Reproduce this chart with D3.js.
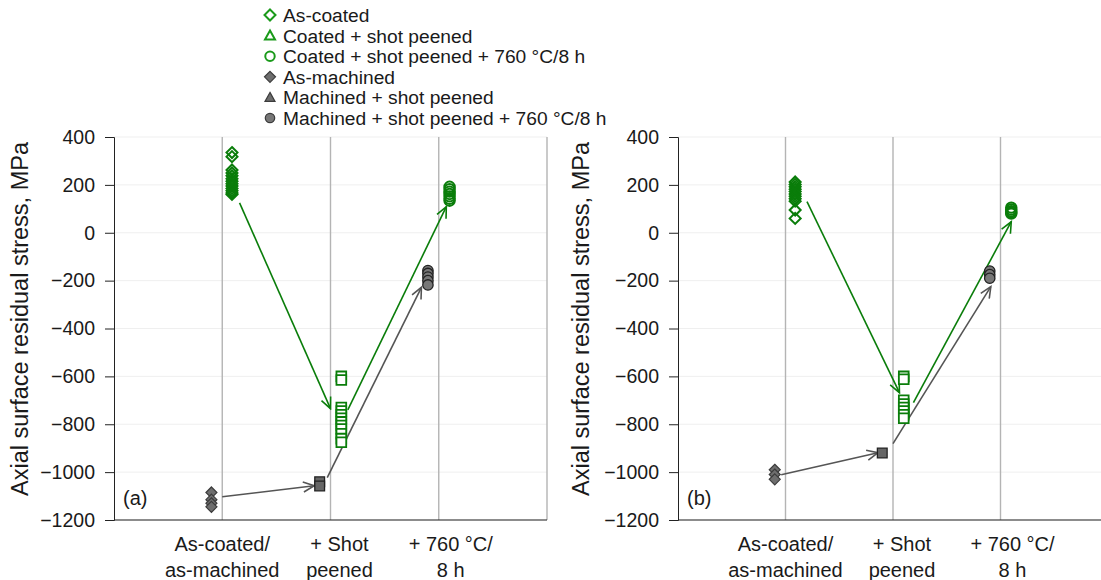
<!DOCTYPE html>
<html>
<head>
<meta charset="utf-8">
<script src="https://cdn.jsdelivr.net/npm/d3@7"></script>
<style>
  body { margin: 0; background: #fff; }
  text { font-family: "Liberation Sans", Arial, sans-serif; fill: #1a1a1a; }
</style>
</head>
<body>
<div id="chart"></div>
<script>
// categorieen en labels
const categories = [["As-coated/", "as-machined"], ["+ Shot", "peened"], ["+ 760 °C/", "8 h"]];
const yTicks = [400, 200, 0, -200, -400, -600, -800, -1000, -1200];
const legendLabels = ["As-coated", "Coated + shot peened", "Coated + shot peened + 760 °C/8 h",
    "As-machined", "Machined + shot peened", "Machined + shot peened + 760 °C/8 h"];

// paneel (a) waarden, MPa
const aCoated = [335, 318, 262, 250, 238, 226, 215, 205, 195, 185, 175, 166, 160];
const aCoatedPeened = [-600, -615, -730, -745, -760, -775, -790, -805, -820, -840, -860, -875];
const aCoatedAged = [192, 182, 172, 162, 152, 142, 134];
const aMachined = [-1085, -1115, -1130, -1145];
const aMachinedPeened = [-1040, -1058];
const aMachinedAged = [-158, -170, -185, -200, -218];
// pijlen: [x0, y0, x1, y1] in categorie-eenheden en MPa
const aArrowsGreen = [[0.16, 125, 1.0, -735], [1.16, -740, 2.07, 109]];
const aArrowsGray = [[0.0, -1103, 0.85, -1057], [0.97, -1023, 1.84, -228]];

// paneel (b) waarden, MPa
const bCoated = [212, 202, 192, 182, 172, 162, 152, 142, 132, 95, 60];
const bCoatedPeened = [-600, -612, -700, -715, -730, -745, -760, -775];
const bCoatedAged = [105, 97, 90, 84, 80];
const bMachined = [-990, -1010, -1030];
const bMachinedPeened = [-920];
const bMachinedAged = [-160, -175, -190];
const bArrowsGreen = [[0.2, 130, 1.06, -668], [1.19, -710, 2.1, 46]];
const bArrowsGray = [[-0.04, -1011, 0.86, -919], [1.0, -881, 1.91, -225]];

const green = "#0a7d0a";
const legendGreen = "#1a9a1a";
const gray = "#555";

const svg = d3.select("#chart")
    .append("svg")
    .attr("width", 1101)
    .attr("height", 580);

const y = d3.scaleLinear().domain([-1200, 400]).range([520, 137]);

// pijlpunten (open V)
const defs = svg.append("defs");
[["arrGreen", green], ["arrGray", gray]].forEach(([id, c]) => {
    defs.append("marker")
        .attr("id", id)
        .attr("viewBox", "-12 -6 14 12")
        .attr("refX", 0).attr("refY", 0)
        .attr("markerWidth", 14).attr("markerHeight", 12)
        .attr("markerUnits", "userSpaceOnUse")
        .attr("orient", "auto")
        .append("path")
        .attr("d", "M-11,-5 L0,0 L-11,5")
        .attr("fill", "none")
        .attr("stroke", c)
        .attr("stroke-width", 1.6);
});

const diamond = "M0,-5.5 L5.5,0 L0,5.5 L-5.5,0Z";
const square = d3.symbol().type(d3.symbolSquare).size(95)();
const circle = d3.symbol().type(d3.symbolCircle).size(85)();
const triangle = "M0,-5 L5,4 L-5,4Z";

function drawPanel(left, right, sets, label, titleX) {
    const x = d3.scaleLinear().domain([-1, 3]).range([left, right]);
    const g = svg.append("g");

    // zwakke horizontale lijnen
    g.selectAll(".hgrid").data(yTicks).enter().append("line")
        .attr("x1", left).attr("x2", right)
        .attr("y1", d => y(d)).attr("y2", d => y(d))
        .attr("stroke", "#efefef").attr("stroke-width", 1);

    // verticale lijnen per categorie
    g.selectAll(".vgrid").data([0, 1, 2, 3]).enter().append("line")
        .attr("x1", d => x(d)).attr("x2", d => x(d))
        .attr("y1", y(400)).attr("y2", y(-1200))
        .attr("stroke", "#b4b4b4").attr("stroke-width", 1.4);

    // y-as
    const yAxis = g.append("g")
        .attr("transform", "translate(" + left + ",0)")
        .call(d3.axisLeft(y).tickValues(yTicks).tickFormat(d3.format("d")).tickSize(9).tickPadding(10));
    yAxis.select(".domain").attr("stroke", "#222");
    yAxis.selectAll(".tick line").attr("stroke", "#222");
    yAxis.selectAll("text").style("font-size", "19.5px").attr("fill", "#1a1a1a");

    // x-as lijn
    g.append("line")
        .attr("x1", left).attr("x2", right)
        .attr("y1", y(-1200)).attr("y2", y(-1200))
        .attr("stroke", "#222").attr("stroke-width", 1.2);

    // categorie labels
    const dx = [0, 9, 12];
    categories.forEach((lines, i) => {
        const t = g.append("text")
            .attr("text-anchor", "middle")
            .style("font-size", "20px");
        lines.forEach((l, j) => {
            t.append("tspan")
                .attr("x", x(i) + dx[i])
                .attr("y", 551 + j * 26)
                .text(l);
        });
    });

    // as titel
    g.append("text")
        .attr("transform", "translate(" + titleX + ",319) rotate(-90)")
        .attr("text-anchor", "middle")
        .attr("dy", "0.35em")
        .style("font-size", "23.5px")
        .text("Axial surface residual stress, MPa");

    // paneel label
    g.append("text")
        .attr("x", left + 9).attr("y", y(-1110))
        .attr("dy", "0.35em")
        .style("font-size", "20px")
        .text(label);

    // pijlen
    function arrows(list, color, id) {
        g.selectAll(null).data(list).enter().append("line")
            .attr("x1", d => x(d[0])).attr("y1", d => y(d[1]))
            .attr("x2", d => x(d[2])).attr("y2", d => y(d[3]))
            .attr("stroke", color).attr("stroke-width", 1.6)
            .attr("marker-end", "url(#" + id + ")");
    }
    arrows(sets.arrowsGreen, green, "arrGreen");
    arrows(sets.arrowsGray, gray, "arrGray");

    // markers
    function marks(values, cat, off, path, fill, stroke, sw) {
        g.selectAll(null).data(values).enter().append("path")
            .attr("d", path)
            .attr("transform", d => "translate(" + x(cat + off) + "," + y(d) + ")")
            .attr("fill", fill).attr("stroke", stroke).attr("stroke-width", sw);
    }
    marks(sets.machined, 0, -0.1, diamond, "#6e6e6e", "#3c3c3c", 1.2);
    marks(sets.machinedPeened, 1, -0.1, square, "#666", "#222", 1.3);
    marks(sets.machinedAged, 2, -0.1, circle, "#777", "#222", 1.3);
    marks(sets.coated, 0, 0.09, diamond, "none", green, 2);
    marks(sets.coatedPeened, 1, 0.1, square, "#fff", green, 1.8);
    marks(sets.coatedAged, 2, 0.1, circle, "none", green, 2);
}

drawPanel(114, 547, {
    coated: aCoated, coatedPeened: aCoatedPeened, coatedAged: aCoatedAged,
    machined: aMachined, machinedPeened: aMachinedPeened, machinedAged: aMachinedAged,
    arrowsGreen: aArrowsGreen, arrowsGray: aArrowsGray
}, "(a)", 20);

drawPanel(678, 1108, {
    coated: bCoated, coatedPeened: bCoatedPeened, coatedAged: bCoatedAged,
    machined: bMachined, machinedPeened: bMachinedPeened, machinedAged: bMachinedAged,
    arrowsGreen: bArrowsGreen, arrowsGray: bArrowsGray
}, "(b)", 581);

// legenda
const legendSymbols = [
    { d: diamond, fill: "#fff", stroke: legendGreen },
    { d: triangle, fill: "#fff", stroke: legendGreen },
    { d: d3.symbol().type(d3.symbolCircle).size(70)(), fill: "#fff", stroke: legendGreen },
    { d: diamond, fill: "#6e6e6e", stroke: "#3c3c3c" },
    { d: triangle, fill: "#6e6e6e", stroke: "#3c3c3c" },
    { d: d3.symbol().type(d3.symbolCircle).size(70)(), fill: "#777", stroke: "#3c3c3c" }
];
const legend = svg.selectAll(".legend").data(legendLabels).enter().append("g")
    .attr("transform", (d, i) => "translate(270," + (15 + i * 20.6) + ")");
legend.append("path")
    .attr("d", (d, i) => legendSymbols[i].d)
    .attr("fill", (d, i) => legendSymbols[i].fill)
    .attr("stroke", (d, i) => legendSymbols[i].stroke)
    .attr("stroke-width", (d, i) => i < 3 ? 2 : 1.2);
legend.append("text")
    .attr("x", 13)
    .attr("dy", "0.36em")
    .style("font-size", "19.2px")
    .text(d => d);
</script>
</body>
</html>
